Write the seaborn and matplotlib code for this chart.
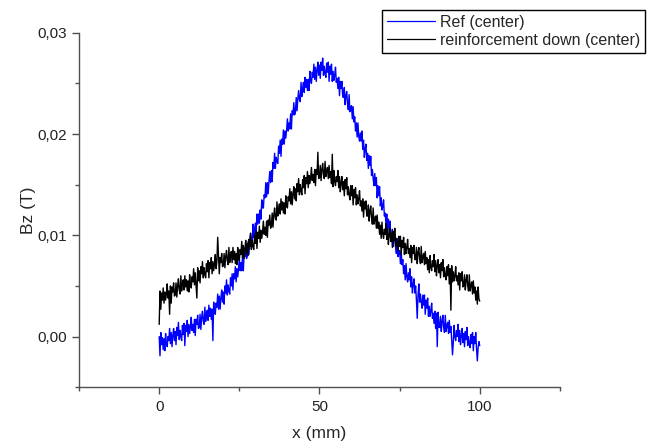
import numpy as np
import pandas as pd
import matplotlib
matplotlib.use("Agg")
import matplotlib.pyplot as plt
import seaborn as sns
from matplotlib.ticker import MultipleLocator, FuncFormatter

sns.set_theme(style="ticks")
plt.rcParams.update({
    'font.family': ['Liberation Sans', 'DejaVu Sans'],
    'axes.edgecolor': '#505050',
    'axes.linewidth': 1.0,
    'xtick.color': '#505050',
    'ytick.color': '#505050',
    'xtick.labelcolor': '#222222',
    'ytick.labelcolor': '#222222',
})

# measurement positions along the line (mm), 0.25 mm step
x_mm = np.arange(0, 100.25, 0.25)

# Bz readings in units of 1e-4 T (one row = 2.5 mm)
ref_center = np.array([
    0, -19, 4, -8, -1, -13, -2, -14, 3, -7,
    -10, 0, -4, 8, -7, 4, -10, 1, 8, -4,
    5, -8, 9, 1, 14, -3, 6, 0, -4, 11,
    2, 13, -9, 11, 5, 16, 0, 12, 3, 10,
    19, 6, 12, 4, 17, 1, 17, 12, 21, 8,
    9, 22, 7, 19, 25, 15, 12, 29, 15, 21,
    26, 16, 31, 20, 28, 17, 27, -4, 34, 24,
    22, 33, 29, 42, 27, 40, 27, 38, 46, 34,
    44, 32, 50, 43, 56, 41, 51, 45, 42, 58,
    50, 62, 46, 62, 57, 69, 54, 67, 59, 67,
    77, 65, 73, 65, 80, 65, 83, 79, 89, 77,
    80, 94, 81, 94, 102, 94, 92, 111, 98, 106,
    112, 104, 121, 111, 121, 112, 125, 116, 135, 127,
    127, 140, 137, 152, 138, 152, 141, 153, 163, 152,
    164, 153, 172, 166, 181, 166, 177, 173, 171, 188,
    181, 194, 178, 195, 190, 204, 190, 203, 196, 204,
    215, 203, 211, 205, 220, 205, 223, 219, 231, 219,
    222, 236, 223, 235, 243, 234, 232, 251, 237, 245,
    251, 241, 256, 246, 254, 243, 254, 243, 262, 252,
    250, 261, 256, 269, 254, 266, 252, 263, 271, 258,
    268, 255, 271, 263, 275, 258, 267, 260, 256, 270,
    261, 271, 252, 267, 259, 269, 252, 262, 253, 258,
    266, 251, 255, 245, 256, 238, 252, 245, 252, 237,
    236, 246, 229, 238, 242, 230, 224, 239, 222, 226,
    228, 215, 227, 212, 217, 203, 211, 197, 211, 198,
    193, 201, 193, 203, 185, 194, 177, 185, 190, 174,
    181, 166, 179, 169, 178, 159, 165, 156, 149, 161,
    149, 157, 137, 149, 139, 148, 129, 137, 125, 129,
    135, 119, 122, 111, 121, 102, 116, 107, 114, 97,
    96, 106, 89, 97, 101, 88, 82, 97, 79, 83,
    85, 72, 84, 71, 76, 62, 70, 56, 72, 59,
    54, 63, 56, 67, 49, 59, 43, 52, 57, 43,
    50, 36, 18, 41, 52, 34, 42, 34, 28, 41,
    31, 41, 22, 36, 28, 38, 20, 30, 20, 25,
    33, 18, 23, 13, 25, 8, 23, -10, 24, 9,
    9, 20, 5, 15, 21, 9, 4, 21, 5, 11,
    14, 3, 16, 4, 10, -3, -18, -6, 11, 0,
    -4, 6, 0, 12, -5, 6, -8, 1, 8, -6,
    3, -10, 5, -3, 9, -9, 0, -7, -11, 2,
    -7, 4, -14, 0, -7, 4, -12, -24, -11, -5,
    -9,
]) * 1e-4

reinf_down_center = np.array([
    12, 45, 27, 43, 36, 48, 33, 44, 36, 42,
    52, 38, 45, 22, 50, 33, 49, 44, 53, 40,
    41, 53, 39, 50, 57, 46, 42, 60, 45, 52,
    56, 46, 60, 49, 56, 45, 55, 44, 61, 51,
    48, 59, 54, 67, 51, 63, 50, 38, 68, 55,
    65, 53, 69, 62, 74, 58, 68, 61, 58, 72,
    64, 75, 58, 73, 67, 78, 62, 74, 65, 72,
    81, 67, 74, 98, 79, 62, 78, 73, 82, 69,
    70, 82, 68, 79, 85, 75, 71, 88, 73, 80,
    84, 73, 88, 76, 84, 72, 82, 71, 88, 78,
    75, 86, 81, 94, 78, 90, 77, 87, 95, 82,
    92, 80, 96, 89, 102, 86, 95, 89, 86, 100,
    92, 104, 87, 103, 97, 109, 93, 105, 97, 104,
    114, 101, 108, 100, 114, 98, 115, 110, 120, 107,
    109, 122, 108, 120, 127, 117, 115, 133, 119, 126,
    131, 121, 136, 125, 133, 122, 132, 121, 139, 129,
    127, 138, 134, 146, 131, 143, 130, 141, 148, 136,
    146, 134, 151, 143, 156, 140, 150, 144, 140, 155,
    147, 159, 141, 157, 151, 163, 147, 159, 151, 157,
    167, 154, 160, 152, 165, 149, 165, 160, 182, 156,
    157, 169, 154, 165, 171, 160, 156, 173, 158, 163,
    167, 156, 169, 157, 163, 151, 180, 148, 164, 153,
    149, 158, 153, 164, 147, 158, 143, 152, 158, 145,
    153, 139, 155, 146, 157, 140, 148, 140, 135, 149,
    139, 149, 130, 145, 137, 147, 130, 140, 131, 136,
    144, 129, 134, 124, 136, 118, 133, 126, 134, 119,
    119, 130, 114, 124, 129, 117, 111, 127, 111, 116,
    119, 107, 120, 107, 113, 101, 110, 97, 113, 101,
    97, 106, 101, 112, 96, 106, 91, 101, 107, 94,
    102, 88, 104, 95, 107, 89, 97, 90, 85, 99,
    89, 99, 81, 95, 88, 98, 81, 92, 82, 88,
    96, 82, 87, 78, 90, 73, 88, 82, 90, 76,
    76, 88, 72, 83, 88, 77, 72, 89, 73, 79,
    82, 71, 84, 72, 78, 66, 76, 63, 80, 68,
    65, 75, 69, 81, 64, 75, 60, 70, 76, 63,
    71, 58, 73, 65, 76, 59, 68, 60, 56, 69,
    60, 71, 52, 67, 26, 70, 54, 64, 55, 60,
    69, 55, 60, 51, 63, 46, 62, 55, 64, 49,
    50, 61, 46, 56, 61, 50, 45, 61, 45, 51,
    54, 42, 55, 43, 49, 36, 45, 32, 49, 37,
    35,
]) * 1e-4

series_names = ['Ref (center)', 'reinforcement down (center)']
series_colors = ['#0000ff', '#000000']

df = pd.DataFrame({
    'x': np.concatenate([x_mm, x_mm]),
    'Bz': np.concatenate([ref_center, reinf_down_center]),
    'series': [series_names[0]] * len(x_mm) + [series_names[1]] * len(x_mm),
})

fig = plt.figure(figsize=(6.48, 4.43), dpi=100)
ax = fig.add_axes([0.122, 0.126, 0.742, 0.8])

sns.lineplot(data=df, x='x', y='Bz', hue='series', palette=series_colors,
             hue_order=series_names, linewidth=1.0, ax=ax, sort=False,
             estimator=None, legend=False)

ax.set_xlim(-25, 125)
ax.set_ylim(-0.005, 0.03)
ax.xaxis.set_major_locator(MultipleLocator(50))
ax.xaxis.set_minor_locator(MultipleLocator(25))
ax.yaxis.set_major_locator(MultipleLocator(0.01))
ax.yaxis.set_minor_locator(MultipleLocator(0.005))
ax.yaxis.set_major_formatter(FuncFormatter(lambda v, p: f'{v:.2f}'.replace('.', ',')))
ax.xaxis.set_major_formatter(FuncFormatter(lambda v, p: f'{v:.0f}'))
ax.tick_params(which='major', direction='out', length=5, width=1, labelsize=11, pad=4)
ax.tick_params(which='minor', direction='out', length=3, width=1)
sns.despine(ax=ax)

ax.set_xlabel('x (mm)', fontsize=12.5, labelpad=9)
ax.set_ylabel('Bz (T)', fontsize=12.5, labelpad=1)

handles = [plt.Line2D([], [], color=c, lw=0.9) for c in series_colors]
leg = ax.legend(handles, series_names, loc='upper right',
                bbox_to_anchor=(645 / 648, 1 - 10 / 443), bbox_transform=fig.transFigure,
                fontsize=11.5, frameon=True, fancybox=False, edgecolor='black',
                framealpha=1, borderpad=0.3, handlelength=3.0, handletextpad=0.3,
                labelspacing=0.2, borderaxespad=0)
leg.get_frame().set_linewidth(1.0)

fig.savefig('out.png', dpi=100)
